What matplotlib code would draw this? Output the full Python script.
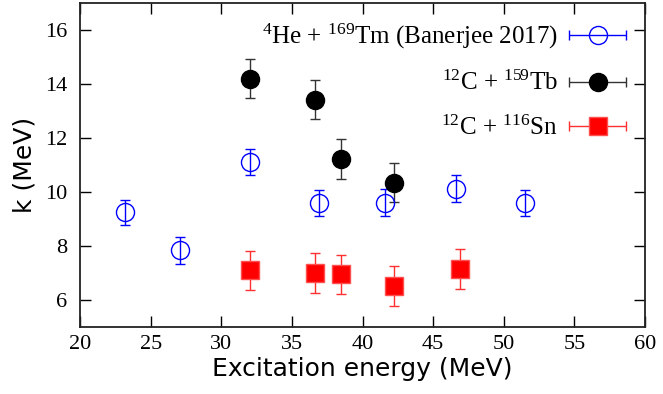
import numpy as np
import matplotlib
matplotlib.use("Agg")
import matplotlib.pyplot as plt
from matplotlib.container import ErrorbarContainer
from matplotlib.legend_handler import HandlerErrorbar

# 4He + 169Tm (Banerjee 2017)
he_x = [23.2, 27.1, 32.0, 36.9, 41.6, 46.6, 51.5]
he_k = [9.25, 7.85, 11.1, 9.58, 9.6, 10.12, 9.6]
he_err = [0.47, 0.5, 0.48, 0.48, 0.5, 0.5, 0.47]

# 12C + 159Tb
tb_x = [32.0, 36.6, 38.5, 42.2]
tb_k = [14.2, 13.43, 11.23, 10.35]
tb_err = [0.73, 0.73, 0.73, 0.73]

# 12C + 116Sn
sn_x = [32.0, 36.6, 38.5, 42.2, 46.9]
sn_k = [7.1, 7.0, 6.95, 6.52, 7.15]
sn_err = [0.73, 0.73, 0.73, 0.73, 0.73]

plt.rcParams['mathtext.fontset'] = 'custom'
plt.rcParams['mathtext.rm'] = 'Liberation Serif'
plt.rcParams['mathtext.it'] = 'Liberation Serif:italic'

fig = plt.figure(figsize=(6.63, 3.94), dpi=100)
ax = fig.add_axes([0.1207, 0.170, 0.8522, 0.822])

blue = dict(fmt='o', ms=13, mfc='none', mec='#0000ff', mew=1.0,
            ecolor='#0000ff', elinewidth=1.0, capsize=3.6, capthick=1.0)
black = dict(fmt='o', ms=13, color='black', ecolor='#333333',
             elinewidth=1.0, capsize=3.6, capthick=1.0)
red = dict(fmt='s', ms=13, color='#ff0000', mec='#ff5050',
           ecolor='#ff3030', elinewidth=1.0, capsize=3.6, capthick=1.0)

ax.errorbar(he_x, he_k, yerr=he_err, **blue)
ax.errorbar(tb_x, tb_k, yerr=tb_err, **black)
ax.errorbar(sn_x, sn_k, yerr=sn_err, **red)

# legend proxies with horizontal bars (gnuplot style), drawn off-axes
handles = []
for style in (blue, black, red):
    h = ax.errorbar([-100], [-100], xerr=[1], **style)
    handles.append(h)
labels = [r'$^{4}$He + $^{169}$Tm (Banerjee 2017)',
          r'$^{12}$C + $^{159}$Tb',
          r'$^{12}$C + $^{116}$Sn']
leg = ax.legend(handles, labels, loc='upper right', markerfirst=False,
                frameon=False, handlelength=2.3, handletextpad=0.45,
                labelspacing=0.8, borderaxespad=0.35,
                handler_map={ErrorbarContainer: HandlerErrorbar(xerr_size=1.13)},
                prop={'family': 'Liberation Serif', 'size': 18})
for t in leg.get_texts():
    t.set_horizontalalignment('right')
leg._legend_box.align = 'right'

ax.set_xlim(20, 60)
ax.set_ylim(5, 17)
ax.set_xticks(np.arange(20, 61, 5))
ax.set_yticks(np.arange(6, 17, 2))
ax.tick_params(direction='in', length=8, width=1.0, top=True, right=True,
               labelsize=16, pad=6)
ax.tick_params(axis='y', pad=9)
for lab in ax.get_xticklabels() + ax.get_yticklabels():
    lab.set_family('Liberation Serif')
for s in ax.spines.values():
    s.set_linewidth(1.3)
    s.set_color('#222222')

ax.set_xlabel('Excitation energy (MeV)', fontsize=18, family='DejaVu Sans', labelpad=2)
ax.set_ylabel('k (MeV)', fontsize=18, family='DejaVu Sans', labelpad=6)

fig.savefig('out.png', dpi=100)
